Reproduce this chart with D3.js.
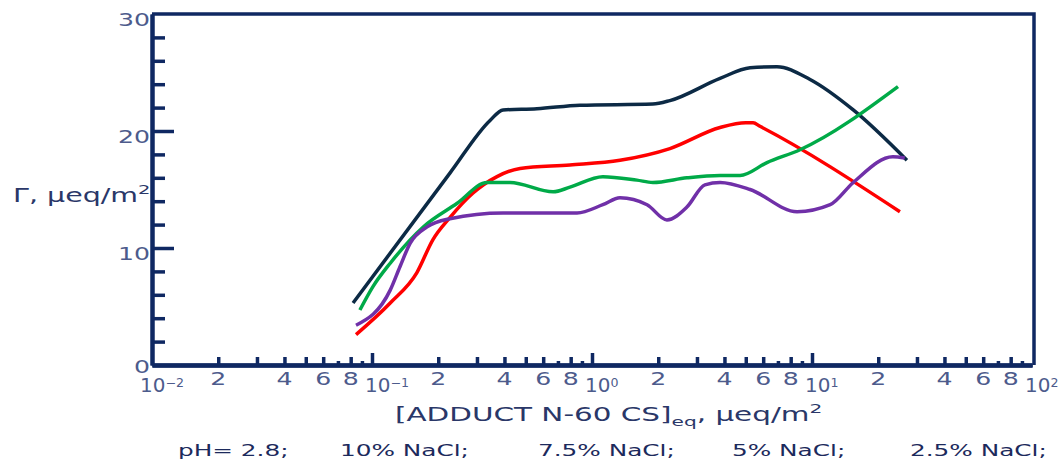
<!DOCTYPE html>
<html>
<head>
<meta charset="utf-8">
<script src="https://cdn.jsdelivr.net/npm/d3@7"></script>
<style>
body { margin: 0; background: #fff; }
text { font-family: "DejaVu Sans", sans-serif; }
</style>
</head>
<body>
<div id="viz"></div>
<script>

// curves: [concentration, adsorption]
var nacl10 = [[0.082,5.3],[0.226,16.4],[0.344,20.9],[0.394,21.8],[0.562,21.9],[0.881,22.2],[1.89,22.3],[2.26,22.6],[3.82,24.5],[5.23,25.4],[6.93,25.5],[9.8,24.4],[15.4,21.8],[27,17.5]];
var nacl75 = [[0.0846,2.6],[0.121,5.3],[0.160,7.9],[0.189,10.7],[0.226,12.6],[0.288,14.7],[0.370,16.1],[0.471,16.8],[0.794,17.1],[1.34,17.5],[2.26,18.5],[3.82,20.3],[5.0,20.7],[5.4,20.7],[5.8,20.4],[25.1,13.1]];
var nacl5 = [[0.0881,4.7],[0.101,6.7],[0.121,8.7],[0.171,11.8],[0.243,13.8],[0.334,15.6],[0.424,15.6],[0.666,14.8],[0.794,15.2],[1.12,16.1],[1.60,15.8],[1.89,15.6],[2.70,16.0],[3.82,16.2],[4.71,16.2],[6.24,17.3],[8.82,18.4],[24.6,23.8]];
var nacl25 = [[0.0846,3.4],[0.121,6.4],[0.134,8.4],[0.149,10.4],[0.178,11.8],[0.226,12.5],[0.394,13.0],[0.855,13.0],[1.12,13.7],[1.34,14.3],[1.78,13.7],[2.19,12.4],[2.70,13.5],[3.26,15.4],[3.82,15.6],[5.23,15.0],[8.55,13.1],[12.1,13.7],[15.4,15.6],[23.3,17.8],[26.4,17.7]];

var seriesColors = ["#0c2a45", "#ff0000", "#00aa48", "#7030a8"];

var decades = [0.01, 0.1, 1, 10, 100];
var decadeExp = ["-2", "-1", "0", "1", "2"];
var minorLabels = [2, 4, 6, 8];
var yTicks = [0, 10, 20, 30];
var legendLabels = ["pH= 2.8;", "10% NaCl;", "7.5% NaCl;", "5% NaCl;", "2.5% NaCl;"];

var viz = { width: 1059, height: 463 };
var axisColor = "#0f2862";
var labelColor = "#4d5b8c";
var titleColor = "#2a3768";

var svg = d3.select("#viz")
	.append("svg")
	.attr("width", viz.width)
	.attr("height", viz.height);

var x = d3.scaleLog().domain([0.01, 100]).range([152, 1032]);
var y = d3.scaleLinear().domain([0, 30]).range([365, 14]);

// the lettering of the original is wide, so stretch text sideways
function place(sel, px, py, s) {
	sel.attr("transform", "translate(" + px + "," + py + ") scale(" + s + ",1)");
}

// minor ticks of the log axis
var minor = [];
decades.slice(0, 4).forEach(function(d) {
	for (var k = 2; k <= 9; k++) minor.push(d * k);
});
function mant(v) {
	return Math.round(v / Math.pow(10, Math.floor(Math.log10(v) + 1e-9)));
}

function styleAxis(g) {
	g.select(".domain").attr("stroke", axisColor).attr("stroke-width", 4);
	g.selectAll(".tick line").attr("stroke", axisColor).attr("stroke-width", 3.5);
	g.selectAll(".tick text").remove();
}

svg.append("g")
	.attr("transform", "translate(0," + y(0) + ")")
	.call(d3.axisBottom(x).tickValues(minor.filter(function(v) { return mant(v) != 7 && mant(v) != 9; }))
		.tickSize(-8).tickSizeOuter(0).tickFormat(""))
	.call(styleAxis);

svg.append("g")
	.attr("transform", "translate(0," + y(0) + ")")
	.call(d3.axisBottom(x).tickValues(minor.filter(function(v) { return mant(v) == 7 || mant(v) == 9; }))
		.tickSize(-4).tickSizeOuter(0).tickFormat(""))
	.call(styleAxis);

svg.append("g")
	.attr("transform", "translate(0," + y(0) + ")")
	.call(d3.axisBottom(x).tickValues(decades.slice(1, 4)).tickSize(-12).tickSizeOuter(0).tickFormat(""))
	.call(styleAxis);

// y axis, ticks pointing into the plot
svg.append("g")
	.attr("transform", "translate(" + x(0.01) + ",0)")
	.call(d3.axisLeft(y).tickValues(d3.range(2, 30, 2).filter(function(v) { return v % 10 != 0; }))
		.tickSize(-13).tickSizeOuter(0).tickFormat(""))
	.call(styleAxis);

svg.append("g")
	.attr("transform", "translate(" + x(0.01) + ",0)")
	.call(d3.axisLeft(y).tickValues([10, 20]).tickSize(-22).tickSizeOuter(0).tickFormat(""))
	.call(styleAxis);

// frame on top and right
svg.append("path")
	.attr("d", "M" + x(0.01) + "," + y(30) + "H" + (x(100) + 2) + "V" + y(0))
	.attr("fill", "none")
	.attr("stroke", axisColor)
	.attr("stroke-width", 3.5);

// y tick labels
svg.selectAll(".ylab")
	.data(yTicks).enter()
	.append("text")
	.attr("class", "ylab")
	.attr("text-anchor", "end")
	.attr("font-size", 18)
	.attr("fill", labelColor)
	.text(function(d) { return d })
	.each(function(d) { place(d3.select(this), x(0.01) - 2, y(d) + (d == 0 ? 8 : 12), 1.4); });

// x minor labels
var minorLab = [];
decades.slice(0, 4).forEach(function(d) {
	minorLabels.forEach(function(k) { minorLab.push({ v: d * k, t: k }); });
});
svg.selectAll(".xminor")
	.data(minorLab).enter()
	.append("text")
	.attr("class", "xminor")
	.attr("text-anchor", "middle")
	.attr("font-size", 18)
	.attr("fill", labelColor)
	.text(function(d) { return d.t })
	.each(function(d) { place(d3.select(this), x(d.v), 385, 1.4); });

// decade labels 10^n
var dec = svg.selectAll(".xdec")
	.data(decades).enter()
	.append("text")
	.attr("class", "xdec")
	.attr("font-size", 19)
	.attr("fill", labelColor)
	.each(function(d, i) { place(d3.select(this), x(d) - (i == 0 ? 12 : 7), 392, 1.05); });
dec.append("tspan").text("10");
dec.append("tspan")
	.attr("dy", -5)
	.attr("font-size", 12)
	.text(function(d, i) { return decadeExp[i].replace("-", "\u2212") });

// curves
var line = d3.line()
	.x(function(d) { return x(d[0]) })
	.y(function(d) { return y(d[1]) })
	.curve(d3.curveMonotoneX);

svg.selectAll(".curve")
	.data([nacl10, nacl75, nacl5, nacl25]).enter()
	.append("path")
	.attr("class", "curve")
	.attr("d", line)
	.attr("fill", "none")
	.attr("stroke", function(d, i) { return seriesColors[i] })
	.attr("stroke-width", 3.5)
	.attr("stroke-linecap", "butt");

// axis titles
var xt = svg.append("text")
	.attr("font-size", 19)
	.attr("fill", titleColor);
place(xt, 395, 421, 1.55);
xt.append("tspan").text("[ADDUCT N-60 CS]");
xt.append("tspan").attr("dy", 5).attr("font-size", 13).text("eq");
xt.append("tspan").attr("dy", -5).text(", \u03bceq/m");
xt.append("tspan").attr("dy", -8).attr("font-size", 13).text("2");

var yt = svg.append("text")
	.attr("font-size", 19)
	.attr("fill", titleColor);
place(yt, 13, 202, 1.5);
yt.append("tspan").text("\u0393, \u03bceq/m");
yt.append("tspan").attr("dy", -8).attr("font-size", 13).text("2");

// legend line under the chart
var legendX = [178, 340, 538, 732, 910];
svg.selectAll(".legend")
	.data(legendLabels).enter()
	.append("text")
	.attr("class", "legend")
	.attr("font-size", 16.5)
	.attr("fill", "#1c2a5c")
	.text(function(d) { return d })
	.each(function(d, i) { place(d3.select(this), legendX[i], 456, 1.5); });

</script>
</body>
</html>
